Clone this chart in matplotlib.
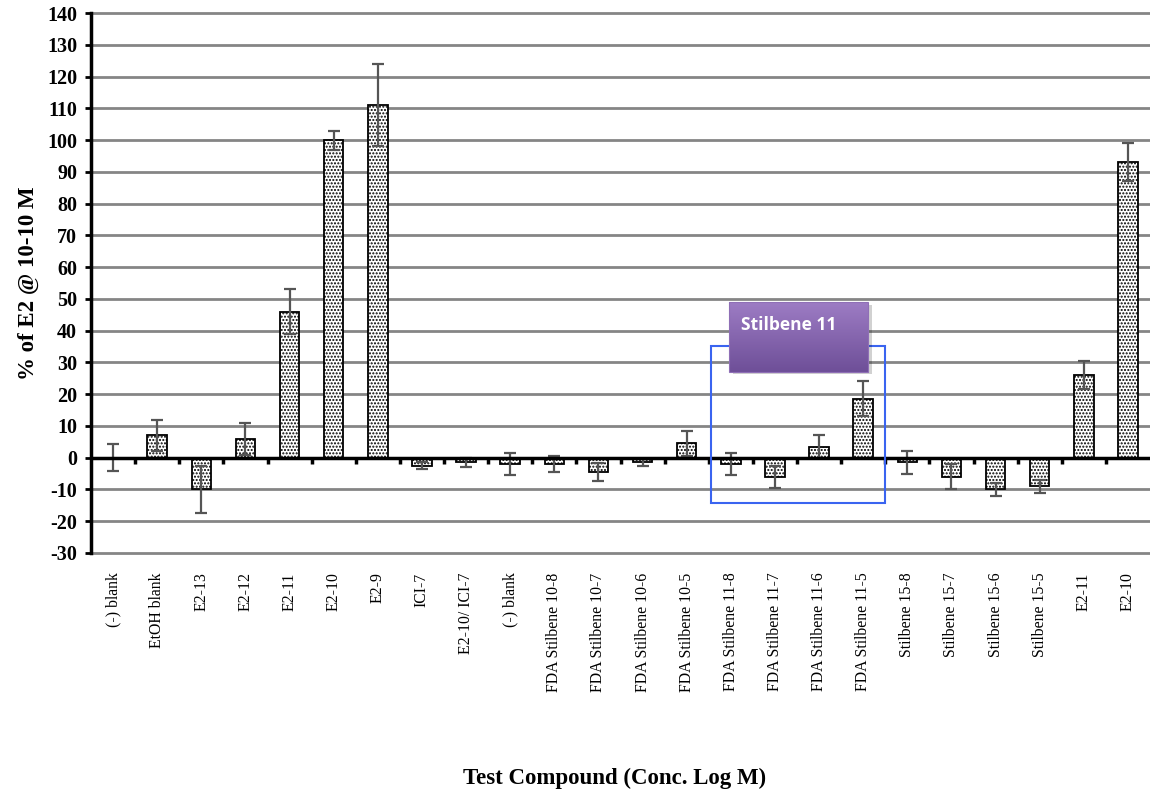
import matplotlib
matplotlib.use("Agg")
import matplotlib.pyplot as plt
import numpy as np
from matplotlib.patches import Rectangle
from matplotlib.colors import LinearSegmentedColormap

categories = ["(-) blank", "EtOH blank", "E2-13", "E2-12", "E2-11", "E2-10", "E2-9",
              "ICI-7", "E2-10/ ICI-7", "(-) blank",
              "FDA Stilbene 10-8", "FDA Stilbene 10-7", "FDA Stilbene 10-6", "FDA Stilbene 10-5",
              "FDA Stilbene 11-8", "FDA Stilbene 11-7", "FDA Stilbene 11-6", "FDA Stilbene 11-5",
              "Stilbene 15-8", "Stilbene 15-7", "Stilbene 15-6", "Stilbene 15-5",
              "E2-11", "E2-10"]
values = [0, 7, -10, 6, 46, 100, 111, -2.5, -1.5, -2, -2, -4.5, -1.5, 4.5,
          -2, -6, 3.5, 18.5, -1.5, -6, -10, -9, 26, 93]
errors = [4.3, 5, 7.5, 5, 7, 3, 13, 1, 1.5, 3.5, 2.5, 2.8, 1, 4,
          3.5, 3.5, 3.5, 5.5, 3.5, 4, 2, 2, 4.5, 6]
yticks = list(range(-30, 141, 10))

plt.rcParams['font.family'] = ['Liberation Serif', 'DejaVu Serif']
plt.rcParams['hatch.linewidth'] = 1.0

fig = plt.figure(figsize=(11.5, 7.98), dpi=100)
ax = fig.add_axes([91/1150, (798-553)/798, 1 - 91/1150, (553-13)/798])

x = np.arange(len(categories))
ax.set_xlim(-0.5, len(categories) - 0.5)
ax.set_ylim(-30, 140)

for yv in yticks:
    if yv != 0:
        ax.axhline(yv, color='#858585', lw=2, zorder=0, clip_on=False)

ax.bar(x, values, width=0.44, color='white', edgecolor='black', linewidth=1.3,
       hatch='.....', zorder=2)
ax.errorbar(x, values, yerr=errors, fmt='none', ecolor='#555555', elinewidth=1.6,
            capsize=4, capthick=1.6, zorder=3)

ax.axhline(0, color='black', lw=2.5, zorder=4)

sec = ax.secondary_xaxis(30/170)
sec.set_xticks(np.arange(len(categories) - 1) + 0.5)
sec.set_xticklabels([])
sec.tick_params(direction='out', length=4, width=2.5, color='black')
sec.spines['bottom'].set_visible(False)

ax.set_yticks(yticks)
ax.set_yticklabels([str(v) for v in yticks], fontsize=14.5, fontweight='bold')
ax.tick_params(axis='y', length=4, width=2, direction='out', pad=6)
ax.set_xticks(x)
ax.set_xticklabels(categories, rotation=90, fontsize=11.3)
ax.tick_params(axis='x', length=0, pad=14)

for s in ['top', 'right', 'bottom']:
    ax.spines[s].set_visible(False)
ax.spines['left'].set_linewidth(2.5)

ax.set_ylabel("% of E2 @ 10-10 M", fontsize=16.5, fontweight='bold', labelpad=6)
fig.text(615/1150, 1 - 778/798, "Test Compound (Conc. Log M)", fontsize=16.5,
         fontweight='bold', ha='center', va='center')

# Highlight box
ax.add_patch(Rectangle((13.54, -14.3), 17.5 - 13.54, 35.2 + 14.3, fill=False,
                       edgecolor='#3a64f0', lw=1.5, zorder=5))
# Shadow
ax.add_patch(Rectangle((14.05, 26.2), 17.12 - 13.97, 49.0 - 27.0, facecolor='#000000',
                       alpha=0.18, edgecolor='none', zorder=5))
cmap = LinearSegmentedColormap.from_list('p', ['#9d7cc4', '#6e4f98'])
grad = np.linspace(0, 1, 100).reshape(-1, 1)
ax.imshow(grad, cmap=cmap, aspect='auto', extent=(13.97, 17.12, 27.0, 49.0),
          origin='upper', zorder=6)
ax.add_patch(Rectangle((13.97, 27.0), 17.12 - 13.97, 49.0 - 27.0, fill=False,
                       edgecolor='#8f6fb6', lw=0.8, zorder=6))
ax.text(14.22, 41.8, "Stilbene 11", color='white', fontsize=12.5, fontweight='bold',
        family=['Open Sans', 'DejaVu Sans'], va='center', ha='left', zorder=7)
ax.set_xlim(-0.5, len(categories) - 0.5)
ax.set_ylim(-30, 140)

fig.savefig("out.png", dpi=100)
